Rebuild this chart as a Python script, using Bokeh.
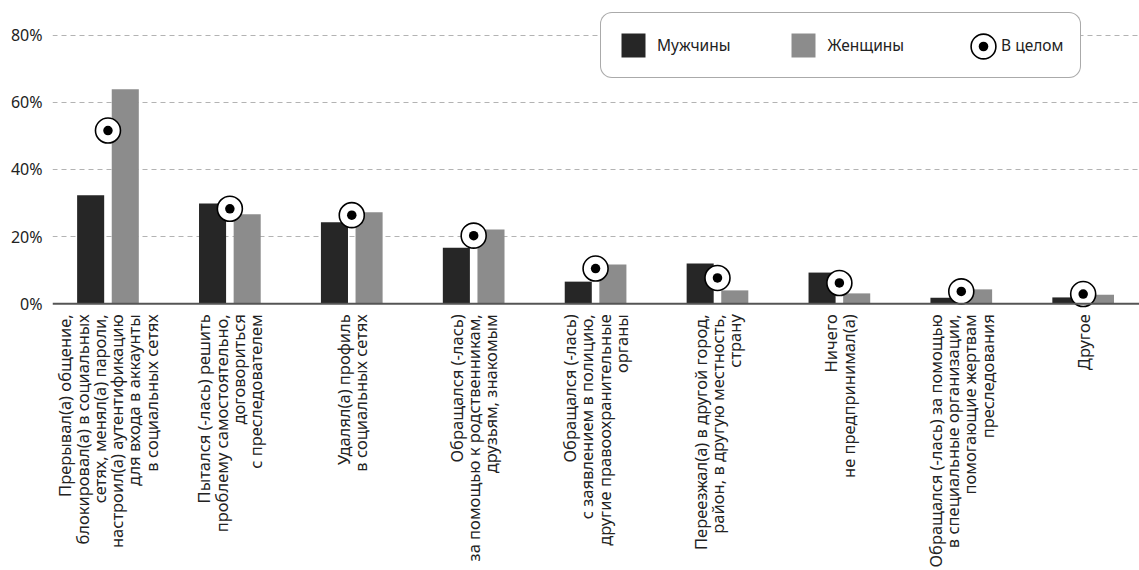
import math
import numpy as np
from bokeh.plotting import figure
from bokeh.models import (ColumnDataSource, Range1d, FixedTicker, PrintfTickFormatter,
                          Span, Legend, LegendItem)
from bokeh.transform import dodge
from bokeh.core.properties import value
from bokeh.embed import file_html
from bokeh.resources import INLINE

categories = [
    "Прерывал(а) общение,\nблокировал(а) в социальных\nсетях, менял(а) пароли,\nнастроил(а) аутентификацию\nдля входа в аккаунты\nв социальных сетях",
    "Пытался (-лась) решить\nпроблему самостоятельно,\nдоговориться\nс преследователем",
    "Удалял(а) профиль\nв социальных сетях",
    "Обращался (-лась)\nза помощью к родственникам,\nдрузьям, знакомым",
    "Обращался (-лась)\nс заявлением в полицию,\nдругие правоохранительные\nорганы",
    "Переезжал(а) в другой город,\nрайон, в другую местность,\nстрану",
    "Ничего\nне предпринимал(а)",
    "Обращался (-лась) за помощью\nв специальные организации,\nпомогающие жертвам\nпреследования",
    "Другое",
]
men = [32.3, 29.9, 24.3, 16.7, 6.6, 12.0, 9.3, 1.8, 1.9]
women = [63.9, 26.7, 27.3, 22.1, 11.7, 4.0, 3.1, 4.3, 2.7]
overall = [51.6, 28.3, 26.4, 20.3, 10.5, 7.7, 6.2, 3.7, 2.9]
y_ticks = [0, 20, 40, 60, 80]
series_names = ["Мужчины", "Женщины", "В целом"]

FONT = "Noto Sans"
MEN_C = "#262626"
WOMEN_C = "#8c8c8c"

src = ColumnDataSource(dict(x=list(range(len(categories))), men=men, women=women,
                            overall=overall, label=categories))

p = figure(width=1139, height=570, output_backend="svg", toolbar_location=None,
           x_axis_type=None, x_range=Range1d(-0.455, 8.462), y_range=Range1d(-79.43, 90.33),
           min_border_left=52, min_border_right=0, min_border_top=0, min_border_bottom=0)
p.outline_line_color = None
p.background_fill_color = "white"
p.border_fill_color = "white"

# axis
ax = p.yaxis[0]
ax.ticker = FixedTicker(ticks=y_ticks)
ax.formatter = PrintfTickFormatter(format="%d%%")
ax.axis_line_color = None
ax.major_tick_line_color = None
ax.minor_tick_line_color = None
ax.major_label_standoff = 4
ax.major_label_text_font = FONT
ax.major_label_text_font_size = "16px"
ax.major_label_text_color = "#222222"

p.xgrid.visible = False
p.ygrid.ticker = FixedTicker(ticks=y_ticks[1:])
p.ygrid.grid_line_color = "#b3b3b3"
p.ygrid.grid_line_dash = "5 4"
p.ygrid.grid_line_width = 1

p.add_layout(Span(location=0, dimension="width", line_color="#555555", line_width=2))

r_men = p.vbar(x=dodge("x", -0.142, range=p.x_range), top="men", width=0.222, source=src,
               fill_color=MEN_C, line_color=None)
r_women = p.vbar(x=dodge("x", 0.142, range=p.x_range), top="women", width=0.222, source=src,
                 fill_color=WOMEN_C, line_color=None)
p.scatter(x="x", y="overall", source=src, size=25, marker="circle",
          fill_color="white", line_color="black", line_width=1.6)
p.scatter(x="x", y="overall", source=src, size=9.5, marker="circle",
          fill_color="black", line_color=None)

p.text(x="x", y=-3.1, text="label", source=src, angle=math.pi / 2,
       text_align="right", text_baseline="middle", text_font=value(FONT),
       text_font_size="16.5px", text_line_height=0.75, text_color="#222222")

# legend proxies
nan_src = ColumnDataSource(dict(x=[np.nan], y=[np.nan]))
r_hidden = p.scatter(x="x", y="y", source=nan_src, size=10, fill_alpha=0, line_alpha=0)
r_ring = p.scatter(x="x", y="y", source=nan_src, marker="circle", size=25,
                   fill_color="white", line_color="black", line_width=1.6)
r_dot = p.scatter(x="x", y="y", source=nan_src, marker="circle", size=9.5,
                  fill_color="black", line_color=None)

legA = Legend(items=[LegendItem(label=series_names[0], renderers=[r_men]),
                     LegendItem(label=series_names[1], renderers=[r_women]),
                     LegendItem(label=series_names[2], renderers=[r_hidden])],
              orientation="horizontal", location=(548, 492),
              glyph_width=30, glyph_height=30, label_standoff=9, spacing=58,
              padding=17, margin=0, label_text_font=FONT, label_text_font_size="15.5px",
              label_text_color="#222222", border_line_color="#555555", border_line_width=1,
              background_fill_color="white", background_fill_alpha=1.0)
if "border_radius" in Legend.properties():
    legA.border_radius = 12
p.add_layout(legA)

legB = Legend(items=[LegendItem(label=" ", renderers=[r_ring])],
              orientation="horizontal", location=(900, 493),
              glyph_width=62, glyph_height=62, label_standoff=0, padding=0, margin=0,
              label_width=0, label_text_font_size="1px",
              border_line_color=None, background_fill_alpha=0)
p.add_layout(legB)

legC = Legend(items=[LegendItem(label=" ", renderers=[r_dot])],
              orientation="horizontal", location=(919, 512),
              glyph_width=24, glyph_height=24, label_standoff=0, padding=0, margin=0,
              label_width=0, label_text_font_size="1px",
              border_line_color=None, background_fill_alpha=0)
p.add_layout(legC)

open("out.html", "w").write(file_html(p, INLINE))
